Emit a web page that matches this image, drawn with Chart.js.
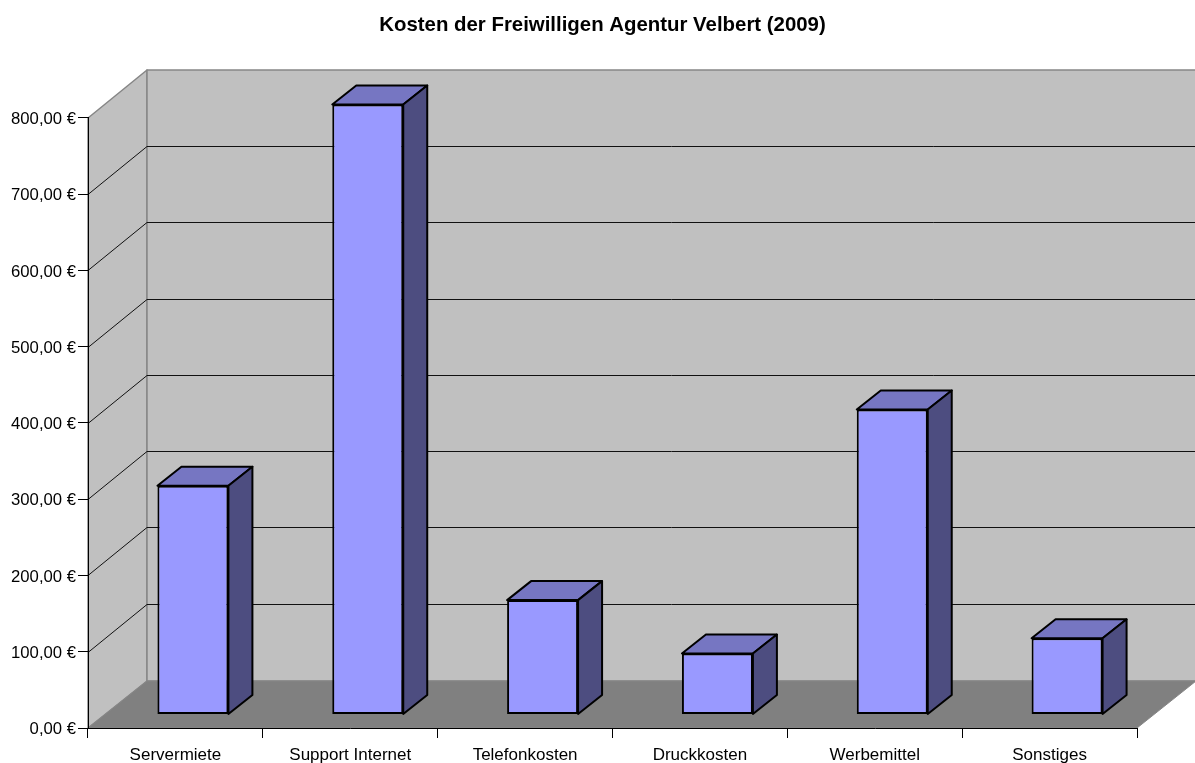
<!DOCTYPE html>
<html lang="de">
<head>
<meta charset="utf-8">
<title>Kosten der Freiwilligen Agentur Velbert (2009)</title>
<script src="https://cdn.jsdelivr.net/npm/chart.js@4/dist/chart.umd.min.js"></script>
<style>
  html, body { margin: 0; padding: 0; background: #fff; overflow: hidden; }
  canvas { display: block; }
</style>
</head>
<body>
<canvas id="chart" width="1195" height="763"></canvas>
<script>
// ── Data ─────────────────────────────────────────────────────────────────────
const categories = ['Servermiete', 'Support Internet', 'Telefonkosten', 'Druckkosten', 'Werbemittel', 'Sonstiges'];
const costs      = [300, 800, 150, 80, 400, 100];
const chartTitle = 'Kosten der Freiwilligen Agentur Velbert (2009)';

// ── Fake 3D look ─────────────────────────────────────────────────────────────
const WALL_DX = 59, WALL_DY = 48, FLOOR_DY = 47; // front axis -> back wall
const BAR_SHIFT_X = 17.5, BAR_SHIFT_Y = 13.5;    // bars stand a bit inside the floor
const BAR_DX = 24, BAR_DY = 19;                  // bar depth

const _wall = '#C0C0C0', _floor = '#808080', _edge = '#868686';

function poly(ctx, pts, fill, stroke, lw) {
  ctx.beginPath();
  pts.forEach((p, i) => i ? ctx.lineTo(p[0], p[1]) : ctx.moveTo(p[0], p[1]));
  ctx.closePath();
  if (fill) { ctx.fillStyle = fill; ctx.fill(); }
  if (stroke) { ctx.strokeStyle = stroke; ctx.lineWidth = lw; ctx.lineJoin = 'round'; ctx.stroke(); }
}

const wallsPlugin = {
  id: 'walls',
  beforeDraw(chart) {
    const { ctx, chartArea: a, scales: { y } } = chart;
    const backL = a.left + WALL_DX, backR = a.right + WALL_DX;
    const backT = a.top - WALL_DY,  backB = a.bottom - FLOOR_DY;
    ctx.save();
    // side wall, back wall, floor
    poly(ctx, [[a.left, a.bottom], [backL, backB], [backL, backT], [a.left, a.top]], _wall, _edge, 1.5);
    poly(ctx, [[backL, backT], [backR, backT], [backR, backB], [backL, backB]], _wall, _edge, 1.5);
    poly(ctx, [[a.left, a.bottom], [a.right, a.bottom], [backR, backB], [backL, backB]], _floor, _edge, 1);
    // grid lines run along side wall and back wall
    ctx.strokeStyle = '#111';
    ctx.lineWidth = 1;
    y.ticks.forEach(t => {
      if (t.value === y.min || t.value === y.max) return;
      const py = Math.round(y.getPixelForValue(t.value)) + 0.5;
      ctx.beginPath();
      ctx.moveTo(a.left, py);
      ctx.lineTo(backL, py - WALL_DY);
      ctx.lineTo(backR, py - WALL_DY);
      ctx.stroke();
    });
    ctx.restore();
  }
};

const bars3dPlugin = {
  id: 'bars3d',
  beforeDatasetDraw(chart, args) {
    const ctx = chart.ctx;
    ctx.save();
    ctx.translate(BAR_SHIFT_X, -BAR_SHIFT_Y);
    args.meta.data.forEach(bar => {
      const l = bar.x - bar.width / 2, r = bar.x + bar.width / 2;
      const t = bar.y, b = bar.base;
      poly(ctx, [[l, t], [r, t], [r + BAR_DX, t - BAR_DY], [l + BAR_DX, t - BAR_DY]], '#7676C2', '#000', 2);
      poly(ctx, [[r, t], [r + BAR_DX, t - BAR_DY], [r + BAR_DX, b - BAR_DY], [r, b]], '#4D4D80', '#000', 2);
    });
  },
  afterDatasetDraw(chart) {
    chart.ctx.restore();
  }
};

// ── Chart ────────────────────────────────────────────────────────────────────
Chart.defaults.font.family = '"Liberation Sans", Arial, sans-serif';
Chart.defaults.color = '#000';

new Chart(document.getElementById('chart'), {
  type: 'bar',
  data: {
    labels: categories,
    datasets: [{
      data: costs,
      backgroundColor: '#9999FF',
      borderColor: '#000',
      borderWidth: 2,
      borderSkipped: false,
      categoryPercentage: 1,
      barPercentage: 0.406
    }]
  },
  options: {
    responsive: false,
    animation: false,
    layout: { padding: { left: 10, right: 0, top: 0, bottom: 0 } },
    plugins: {
      legend: { display: false },
      tooltip: { enabled: false },
      title: {
        display: true,
        text: chartTitle,
        color: '#000',
        font: { size: 20.4, weight: 'bold' },
        padding: { top: 13, bottom: 80.5 }
      }
    },
    scales: {
      x: {
        afterFit(s) { s.height = 35; },
        grid: { drawOnChartArea: false, color: '#000', tickLength: 10, offset: true },
        border: { color: '#000', width: 1 },
        ticks: { font: { size: 17 }, color: '#000', padding: 7, maxRotation: 0, autoSkip: false }
      },
      y: {
        min: 0,
        max: 800,
        afterFit(s) { s.width = 78; },
        grid: { drawOnChartArea: false, color: '#000', tickLength: 10 },
        border: { color: '#000', width: 1 },
        ticks: {
          stepSize: 100,
          font: { size: 16.7 },
          color: '#000',
          padding: 2,
          labelOffset: 1.5,
          callback: v => v.toFixed(2).replace('.', ',') + ' €'
        }
      },
      // keeps the right-hand strip free for the floor corner
      pad: {
        position: 'right',
        afterFit(s) { s.width = 58; },
        grid: { display: false },
        border: { display: false },
        ticks: { display: false }
      }
    }
  },
  plugins: [wallsPlugin, bars3dPlugin]
});
</script>
</body>
</html>
